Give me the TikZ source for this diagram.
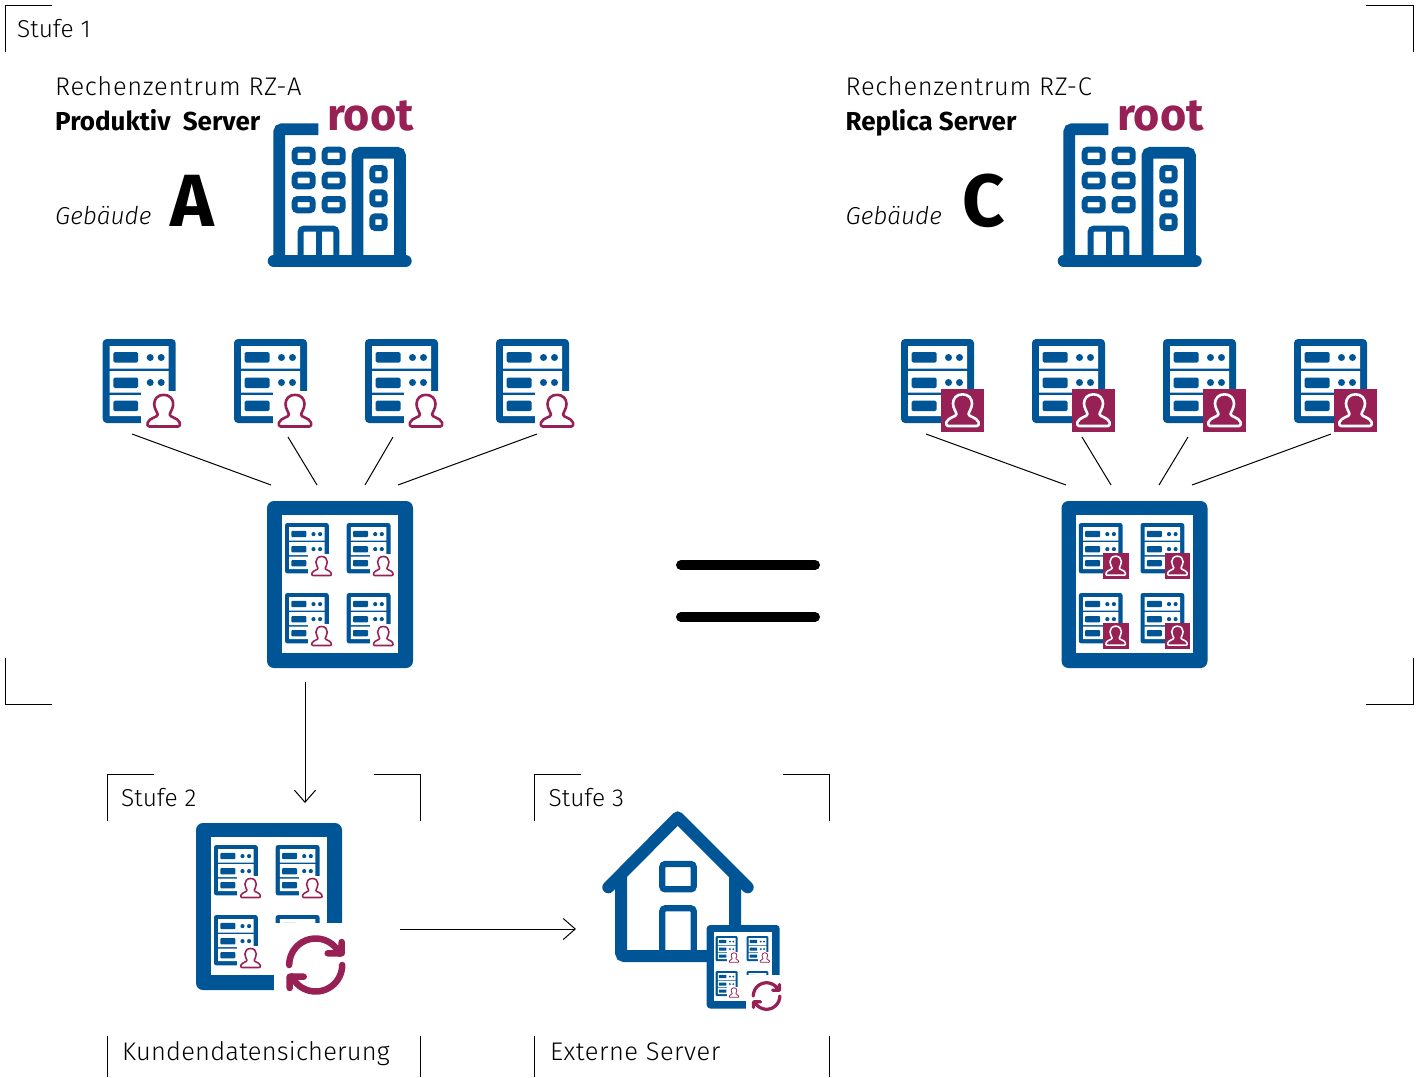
\documentclass[tikz,border=0pt]{standalone}
\usepackage{xcolor}
\usepackage{fontspec}
\usepackage{tikz}
\usetikzlibrary{arrows.meta}
\setmainfont{Fira Sans Light}[BoldFont={Fira Sans Bold}, ItalicFont={Fira Sans Light Italic}]

\definecolor{rzblue}{HTML}{005596}
\definecolor{rzpurple}{HTML}{972155}

\newcommand{\iconu}{1}

\tikzset{
    every pic/.style={transform shape},
    iconscale/.code={\pgfmathsetmacro\iconu{\iconu*#1}\tikzset{scale=#1}},
    markline/.style={line width=1pt, black},
    spoke/.style={line width=1pt, black},
    flowarrow/.style={line width=1pt, black, -{Straight Barb[length=12pt, width=21pt]}},
    equalbar/.style={line width=10pt, black, line cap=round},
    iconline/.style={rzblue, line width=\iconu*#1, rounded corners=\iconu*3pt},
    lbl/.style={anchor=base west, inner sep=0pt, font=\fontsize{25.5}{30}\selectfont},
    lblstufe/.style={lbl, font=\fontsize{24.5}{30}\selectfont},
    lblwide/.style={lbl, font=\fontsize{25.5}{30}\selectfont\addfontfeature{LetterSpace=#1}},
    lblbold/.style={lbl, font=\fontsize{26}{30}\selectfont\bfseries},
    lblital/.style={lbl, font=\fontsize{24.5}{30}\selectfont\itshape},
    lblbig/.style={lbl, font=\fontsize{74}{80}\selectfont\bfseries},
    lblroot/.style={lbl, rzpurple, font=\fontsize{45}{50}\selectfont\bfseries},
    pics/person/.style={code={
        \draw[#1, line width=\iconu*2.6pt, line join=round]
            (0,1.3) .. controls (6,1.3) and (9.5,5.5) .. (9.5,10.5)
            .. controls (9.5,15) and (6.5,18.5) .. (6,21)
            .. controls (6,24) and (14,24) .. (16,29)
            .. controls (16.5,31) and (16.5,33) .. (14.5,33)
            -- (-14.5,33)
            .. controls (-16.5,33) and (-16.5,31) .. (-16,29)
            .. controls (-14,24) and (-6,24) .. (-6,21)
            .. controls (-6.5,18.5) and (-9.5,15) .. (-9.5,10.5)
            .. controls (-9.5,5.5) and (-6,1.3) .. (0,1.3) -- cycle;
    }},
    pics/srvbase/.style={code={
        \fill[rzblue, rounded corners=\iconu*4pt] (0,0) rectangle (73,84);
        \fill[white] (7,7) rectangle (66,29.5) (7,32) rectangle (66,53.5) (7,56) rectangle (66,77);
        \foreach \y in {13,38.5,61.7}
            \fill[rzblue, rounded corners=\iconu*1.5pt] (10.6,\y) rectangle (35.5,\y+10.5);
        \foreach \y in {18.5,43.5} {
            \fill[rzblue] (47.5,\y) circle[radius=3.5];
            \fill[rzblue] (58.5,\y) circle[radius=3.5];
        }
    }},
    pics/srvplain/.style={code={
        \pic at (0,0) {srvbase};
        \fill[white] (38.5,52) rectangle (80,92);
        \pic at (61,54.5) {person=rzpurple};
    }},
    pics/srvsquare/.style={code={
        \pic at (0,0) {srvbase};
        \fill[rzpurple] (40,50) rectangle (83,92.7);
        \pic at (61.5,54) {person=white};
    }},
    pics/hubframe/.style={code={
        \fill[rzblue, rounded corners=\iconu*7pt] (0,0) rectangle (146,167);
        \fill[white] (14.7,14) rectangle (131,151.7);
    }},
    pics/hubplain/.style={code={
        \pic at (0,0) {hubframe};
        \foreach \mx/\my in {18/22,79.7/22,18/92,79.7/92}
            \pic[iconscale=.6] at (\mx,\my) {srvplain};
    }},
    pics/hubsquare/.style={code={
        \pic at (0,0) {hubframe};
        \foreach \mx/\my in {17.3/22,79/22,17.3/92,79/92}
            \pic[iconscale=.6] at (\mx,\my) {srvsquare};
    }},
    pics/hubsync/.style={code={
        \pic at (0,0) {hubplain};
        \fill[white] (78,100) rectangle (152,176);
        \begin{scope}[shift={(119.7,142)}]
            \draw[rzpurple, line width=\iconu*6.5pt, line cap=round, line join=round]
                plot[smooth, domain=180:335, samples=24] ({26.5*cos(\x)},{26.5*sin(\x)})
                (26,-23) -- (26,-11.7) -- (12,-11.7);
            \draw[rzpurple, line width=\iconu*6.5pt, line cap=round, line join=round]
                plot[smooth, domain=0:155, samples=24] ({26.5*cos(\x)},{26.5*sin(\x)})
                (-26,23) -- (-26,11.7) -- (-12,11.7);
        \end{scope}
    }},
    pics/towers/.style={code={
        \draw[rzblue, line width=12pt, line cap=round] (5.7,138) -- (137.7,138);
        \draw[iconline=11.7pt] (11.2,138) -- (11.2,6.2) -- (50.3,6.2);
        \draw[iconline=11.7pt] (89.5,138) -- (89.5,29.8) -- (132,29.8) -- (132,138);
        \foreach \wx in {26.7,56.7}
            \foreach \wy/\wz in {26.7/39,51.7/63.3,76/87.3}
                \draw[iconline=6pt] (\wx,\wy) rectangle (\wx+18,\wz);
        \foreach \wy/\wz in {45/57.3,69.3/81.3,93.3/105}
            \draw[iconline=6pt] (104.3,\wy) rectangle (116.7,\wz);
        \draw[iconline=6pt] (32.7,138) -- (32.7,105.7) -- (68.3,105.7) -- (68.3,138);
        \draw[iconline=6pt] (50.5,105.7) -- (50.5,138);
    }},
    pics/house/.style={code={
        \draw[rzblue, line width=12pt, line cap=round, line join=round] (6.3,76.3) -- (75.7,6.3) -- (145.7,76.3);
        \draw[iconline=12pt] (19.2,65) -- (19.2,145) -- (133,145) -- (133,65);
        \draw[iconline=6.3pt] (60.3,53) rectangle (91.7,78.3);
        \draw[iconline=6.3pt] (60.3,145) -- (60.3,97.3) -- (91.7,97.3) -- (91.7,145);
    }},
}

\begin{document}
\begin{tikzpicture}[x=1pt, y=-1pt]

    \useasboundingbox (0,0) rectangle (1417,1077);

    % stufe marks
    \draw[markline] (5,52) -- (5,5) -- (52,5);
    \draw[markline] (1366,5) -- (1413,5) -- (1413,52);
    \draw[markline] (5,658) -- (5,704) -- (52,704);
    \draw[markline] (1366,704) -- (1413,704) -- (1413,658);
    \draw[markline] (107.5,821) -- (107.5,774.5) -- (154,774.5);
    \draw[markline] (374,774.5) -- (420.5,774.5) -- (420.5,821);
    \draw[markline] (534.5,821) -- (534.5,774.5) -- (581,774.5);
    \draw[markline] (783,774.5) -- (829.5,774.5) -- (829.5,821);
    \foreach \x in {107.5,420.5,534.5,829.5}
    \draw[markline] (\x,1036) -- (\x,1077);

    \node[lblstufe] (stufeA) at (17,37) {Stufe 1};
    \node[lblstufe] (stufeB) at (121,806) {Stufe 2};
    \node[lblstufe] (stufeC) at (548.5,806) {Stufe 3};

    \node[lblwide=2.6] (rzA) at (55,95) {Rechenzentrum RZ-A};
    \node[lblbold] (serverA) at (55,130) {Produktiv\hspace{6pt} Server};
    \node[lblital] (gebA) at (55,224) {Gebäude};
    \node[lblbig] (letterA) at (170,226) {A};
    \node[lblroot] (rootA) at (327,130) {root};
    \pic at (268,123) {towers};

    \node[lblwide=2.6] (rzC) at (845.5,95) {Rechenzentrum RZ-C};
    \node[lblbold] (serverC) at (845.5,130) {Replica Server};
    \node[lblital] (gebC) at (845.5,224) {Gebäude};
    \node[lblbig] (letterC) at (962,226) {C};
    \node[lblroot] (rootC) at (1117,130) {root};
    \pic at (1058,123) {towers};

    \foreach \x in {102.7,234,365,496}
    \pic at (\x,339) {srvplain};
    \foreach \x in {901,1032,1163,1294}
    \pic at (\x,339) {srvsquare};

    \pic at (267,501) {hubplain};
    \pic at (1061.5,501) {hubsquare};
    \pic at (196,823) {hubsync};
    \pic at (602,811) {house};
    \pic[iconscale=.5] at (706.7,925) {hubsync};

    \foreach \name/\x/\y in {a1/132/434,a2/288/437,a3/393/437,a4/537/434,
        ha1/271/485,ha2/317/485,ha3/365/485,ha4/398/485,
        c1/926/434,c2/1082/437,c3/1188/437,c4/1331/434,
        hc1/1066/485,hc2/1111/485,hc3/1159/485,hc4/1192/485,
        hubfoot/305/682,stufeBtop/305/803,hubright/400/929,houseleft/576/929,
        eqa/681/565,eqb/815/565,eqc/681/617,eqd/815/617}
    \coordinate (\name) at (\x,\y);

    \foreach \i in {1,2,3,4} {
        \draw[spoke] (a\i) -- (ha\i);
        \draw[spoke] (c\i) -- (hc\i);
    }

    \draw[flowarrow] (hubfoot) -- (stufeBtop);
    \draw[flowarrow] (hubright) -- (houseleft);

    \draw[equalbar] (eqa) -- (eqb);
    \draw[equalbar] (eqc) -- (eqd);

    \node[lblwide=.8] (kunden) at (122,1060) {Kundendatensicherung};
    \node[lblwide=2] (extern) at (550,1060) {Externe Server};

\end{tikzpicture}
\end{document}
